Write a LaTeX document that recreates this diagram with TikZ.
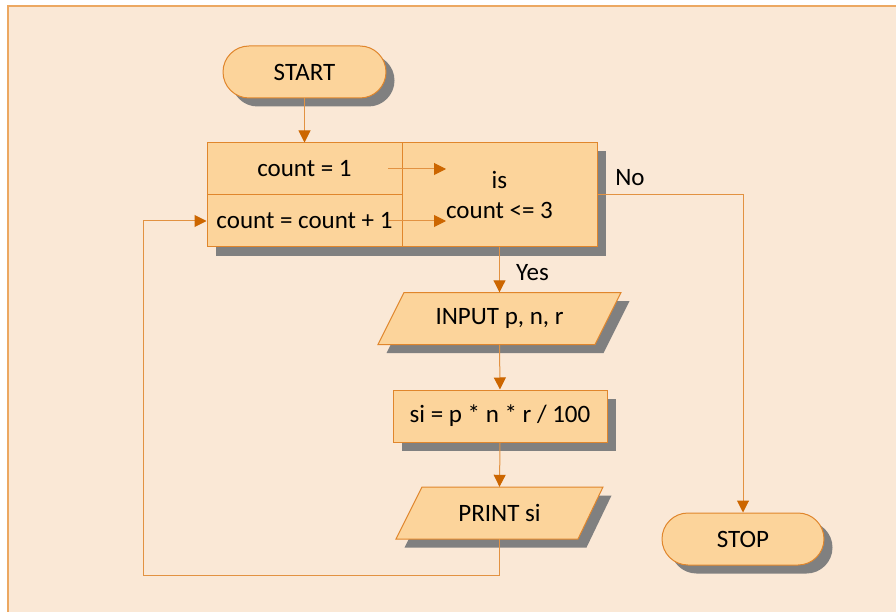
\documentclass[tikz,border=0pt]{standalone}
\usepackage{fontspec}
\setmainfont{Carlito}
\usetikzlibrary{arrows.meta,shapes.misc,shadows}
\definecolor{bgc}{RGB}{250,232,214}
\definecolor{bgline}{RGB}{236,168,98}
\definecolor{nodefill}{RGB}{252,212,155}
\definecolor{nodeline}{RGB}{224,134,44}
\definecolor{linec}{RGB}{226,146,66}
\definecolor{tipc}{RGB}{204,102,0}
\definecolor{shadowc}{RGB}{128,128,128}
\begin{document}
\begin{tikzpicture}[x=1pt,y=-1pt,
  every node/.style={font=\fontsize{25}{30}\selectfont, text=black},
  shad/.style={drop shadow={shadow xshift=8.5pt,shadow yshift=-8.5pt,fill=shadowc,opacity=1}},
  terminal/.style={rounded rectangle, draw=nodeline, fill=nodefill, line width=1pt, minimum width=163pt, minimum height=52pt, inner sep=0pt, shad},
  procbox/.style={rectangle, draw=nodeline, fill=nodefill, line width=1pt, inner sep=0pt},
  para/.style={draw=nodeline, fill=nodefill, line width=1pt, shad},
  plain/.style={inner sep=0pt, minimum height=52pt},
  conn/.style={draw=linec, line width=1pt},
  arr/.style={conn, -{Triangle[length=12pt,width=12pt,color=tipc]}},
  lbl/.style={inner sep=0pt, anchor=base}
]
\useasboundingbox (0,0) rectangle (896,612);
\fill[white] (0,0) rectangle (896,612);
\fill[bgc] (8,6) rectangle (896,612);
\draw[bgline, line width=1.3pt] (8,612) -- (8,6) -- (896,6);

% START
\node[terminal] (start) at (304.5,72) {START};

% big loop box
\fill[shadowc] (215.5,151.5) rectangle (606,256);
\node[procbox, minimum width=195pt, minimum height=52pt] (init) at (304.5,169) {count = 1};
\node[procbox, minimum width=195pt, minimum height=52pt] (incr) at (304.5,221) {count = count + 1};
\node[procbox, minimum width=195pt, minimum height=104pt, align=center] (cond) at (499.5,195) {is\\count <= 3};

\coordinate (a1s) at (388,169);
\coordinate (a1e) at (446,169);
\coordinate (a2s) at (388,221);
\coordinate (a2e) at (446,221);
\draw[arr] (a1s) -- (a1e);
\draw[arr] (a2s) -- (a2e);

\draw[arr] (start.south) -- (init.north);

% INPUT parallelogram
\path[para] (404,292.5) -- (621,292.5) -- (595,344.5) -- (378,344.5) -- cycle;
\node[plain] (input) at (499.5,318.5) {INPUT p, n, r};

% si box
\node[procbox, shad, minimum width=214pt, minimum height=52pt] (calc) at (500,416) {si = p * n * r / 100};

% PRINT parallelogram
\path[para] (422,487) -- (603,487) -- (578,539) -- (396,539) -- cycle;
\node[plain] (print) at (499.5,513) {PRINT si};

% STOP
\node[terminal, minimum width=162pt] (stop) at (743,539) {STOP};

% connectors
\draw[arr] (cond.south) -- (input.north);
\node[lbl] (yes) at (532.5,280) {Yes};
\draw[arr] (input.south) -- (calc.north);
\draw[arr] (calc.south) -- (print.north);
\draw[arr] (cond.east) -| (stop.north);
\node[lbl] (no) at (630,186) {No};
\coordinate (lb) at (143,575);
\draw[arr] (print.south) |- (lb) |- (incr.west);
\end{tikzpicture}
\end{document}
